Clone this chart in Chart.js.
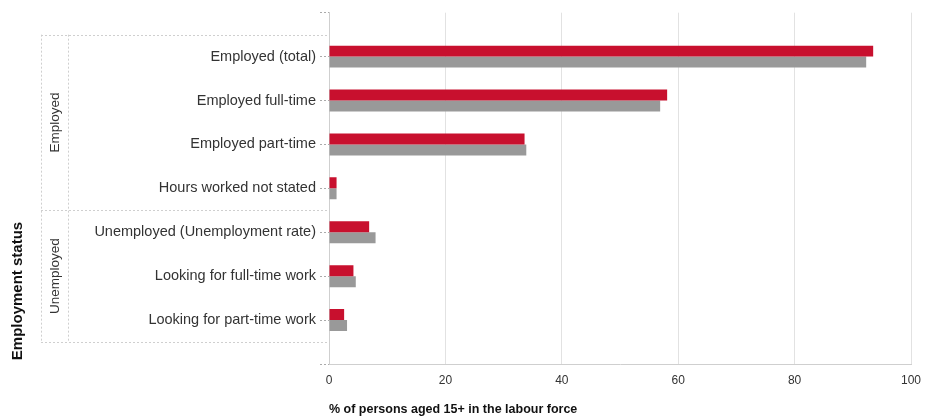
<!DOCTYPE html>
<html>
<head>
<meta charset="utf-8">
<script src="https://cdn.jsdelivr.net/npm/chart.js@4"></script>
<style>
  html, body { margin: 0; padding: 0; background: #fff; }
  #wrap { width: 927px; height: 419px; position: relative; }
</style>
</head>
<body>
<div id="wrap"><canvas id="myChart"></canvas></div>
<script>
// categories, top to bottom
const categories = [
    'Employed (total)',
    'Employed full-time',
    'Employed part-time',
    'Hours worked not stated',
    'Unemployed (Unemployment rate)',
    'Looking for full-time work',
    'Looking for part-time work'
];
// group each category belongs to
const groups = ['Employed', 'Employed', 'Employed', 'Employed', 'Unemployed', 'Unemployed', 'Unemployed'];

// % of persons aged 15+ in the labour force
const areaValues = [93.5, 58.1, 33.6, 1.3, 6.9, 4.2, 2.6];
const comparisonValues = [92.3, 56.9, 33.9, 1.3, 8.0, 4.6, 3.1];

const xTicks = [0, 20, 40, 60, 80, 100];

const labelFont = '"Liberation Sans", Arial, sans-serif';

// blank label at each end gives the half band of space above and below
const yLabels = [''].concat(categories, ['']);
const pad = arr => [null].concat(arr, [null]);

// draws the grouping table left of the labels
const groupBox = {
    id: 'groupBox',
    afterDraw(chart) {
        const ctx = chart.ctx;
        const y = chart.scales.y;
        const right = chart.chartArea.left;
        const left = 41;
        const inner = 68;

        // find group boundaries
        const bounds = [];
        let start = 0;
        for (let i = 1; i <= groups.length; i++) {
            if (i === groups.length || groups[i] !== groups[start]) {
                bounds.push({ name: groups[start], from: start, to: i - 1 });
                start = i;
            }
        }
        const edge = idx => y.getPixelForValue(idx + 1);

        ctx.save();
        ctx.strokeStyle = '#cfcfcf';
        ctx.lineWidth = 1;
        ctx.setLineDash([2, 2]);

        const top = (edge(0) + edge(-1)) / 2;
        const bottom = (edge(groups.length - 1) + edge(groups.length)) / 2;

        ctx.beginPath();
        ctx.moveTo(left, Math.round(top) + 0.5);
        ctx.lineTo(right, Math.round(top) + 0.5);
        bounds.forEach(b => {
            const yy = Math.round((edge(b.to) + edge(b.to + 1)) / 2) + 0.5;
            ctx.moveTo(left, yy);
            ctx.lineTo(right, yy);
        });
        ctx.moveTo(left + 0.5, top);
        ctx.lineTo(left + 0.5, bottom);
        ctx.moveTo(inner + 0.5, top);
        ctx.lineTo(inner + 0.5, bottom);
        ctx.stroke();
        ctx.setLineDash([]);

        // group names
        ctx.fillStyle = '#333';
        ctx.font = '13.5px ' + labelFont;
        ctx.textAlign = 'center';
        ctx.textBaseline = 'middle';
        bounds.forEach(b => {
            const t = (edge(b.from) + edge(b.from - 1)) / 2;
            const bt = (edge(b.to) + edge(b.to + 1)) / 2;
            ctx.save();
            ctx.translate((left + inner) / 2 + 1, (t + bt) / 2);
            ctx.rotate(-Math.PI / 2);
            ctx.fillText(b.name, 0, 0);
            ctx.restore();
        });

        // overall axis title
        ctx.fillStyle = '#111';
        ctx.font = 'bold 15px ' + labelFont;
        ctx.save();
        ctx.translate(18, 291);
        ctx.rotate(-Math.PI / 2);
        ctx.fillText('Employment status', 0, 0);
        ctx.restore();
        ctx.restore();
    }
};

function makeChart() {
    const ctx = document.getElementById('myChart');

    new Chart(ctx, {
        type: 'bar',
        data: {
            labels: yLabels,
            datasets: [{
                label: 'Selected area',
                data: pad(areaValues),
                backgroundColor: '#c8102e',
                categoryPercentage: 0.5,
                barPercentage: 1.0
            }, {
                label: 'Comparison',
                data: pad(comparisonValues),
                backgroundColor: '#999999',
                categoryPercentage: 0.5,
                barPercentage: 1.0
            }]
        },
        options: {
            indexAxis: 'y',
            responsive: true,
            maintainAspectRatio: false,
            animation: false,
            layout: { padding: { top: 12, right: 16, bottom: 0, left: 0 } },
            plugins: {
                legend: { display: false },
                tooltip: { enabled: false }
            },
            scales: {
                x: {
                    min: 0,
                    max: 100,
                    afterBuildTicks: scale => {
                        scale.ticks = xTicks.map(v => ({ value: v }));
                    },
                    afterFit: scale => { scale.height = 55; },
                    afterUpdate: scale => {
                        // keep the plot's right edge fixed at the reference position
                        scale.paddingRight = 0;
                    },
                    grid: { color: '#e2e2e2', drawTicks: false },
                    border: { color: '#cfcfcf' },
                    ticks: {
                        padding: 9,
                        color: '#333',
                        font: { family: labelFont, size: 12 }
                    },
                    title: {
                        display: true,
                        align: 'start',
                        text: '% of persons aged 15+ in the labour force',
                        color: '#111',
                        padding: { top: 0, bottom: 2 },
                        font: { family: labelFont, size: 12.5, weight: 'bold' }
                    }
                },
                y: {
                    offset: false,
                    afterFit: scale => { scale.width = 329; },
                    grid: {
                        offset: false,
                        drawOnChartArea: false,
                        drawTicks: true,
                        tickLength: 9,
                        tickColor: '#aaaaaa',
                        tickBorderDash: [2, 2]
                    },
                    border: { color: '#cfcfcf' },
                    ticks: {
                        autoSkip: false,
                        padding: 4,
                        color: '#333',
                        font: { family: labelFont, size: 14.5 }
                    }
                }
            }
        },
        plugins: [groupBox]
    });
}

makeChart();
</script>
</body>
</html>
